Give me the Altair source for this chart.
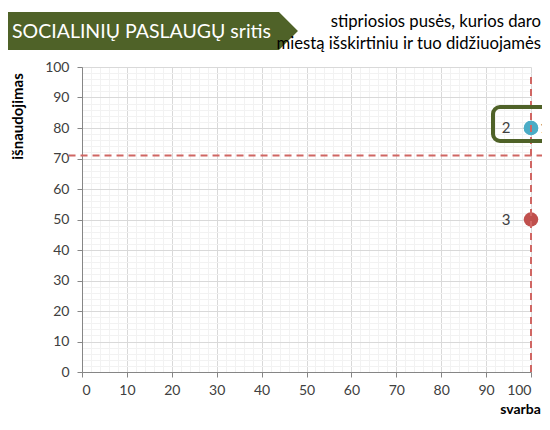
import altair as alt
import pandas as pd

# ---- data ----
ids = ["1", "2", "3"]
svarba = [100, 100, 100]
isnaudojimas = [80, 80, 50]
point_colors = ["#4BACC6", "#4BACC6", "#C0504D"]

avg_y = 71          # horizontal dashed reference line
avg_x = 100         # vertical dashed reference line
hline_x = [-3, 103]
vline_y = [0, 97.5]

tick_values = list(range(0, 101, 2))

banner_text = "SOCIALINIŲ PASLAUGŲ sritis"
subtitle_lines = ["stipriosios pusės, kurios daro", "miestą išskirtiniu ir tuo didžiuojamės"]
x_title = "svarba"
y_title = "išnaudojimas"

FONT = "Lato"
GREEN = "#4F6228"
DASH = "#D06663"

pts = pd.DataFrame({"id": ids, "svarba": svarba, "isn": isnaudojimas, "color": point_colors})

major_test = "datum.value % 10 === 0"
grid_color = {"condition": {"test": major_test, "value": "#D9D9D9"}, "value": "#F2F2F2"}
tick_color = {"condition": {"test": major_test, "value": "#868686"}, "value": "transparent"}
label_expr = "datum.value % 10 === 0 ? datum.label : ''"

xscale = alt.Scale(domain=[0, 100], nice=False, zero=False, padding=0)
yscale = alt.Scale(domain=[0, 100], nice=False, zero=False, padding=0)

x_axis = alt.Axis(values=tick_values, grid=True, gridColor=grid_color, tickColor=tick_color,
                  tickSize=5, domainColor="#868686", labelExpr=label_expr, labelOverlap=False,
                  labelFont=FONT, labelFontSize=14, labelColor="#404040", labelPadding=6,
                  title=x_title, titleFont=FONT, titleFontSize=14, titleFontWeight="bold",
                  titleColor="black", titleX=438, titleY=37, titleAlign="center",
                  titleBaseline="middle")
y_axis = alt.Axis(values=tick_values, grid=True, gridColor=grid_color, tickColor=tick_color,
                  tickSize=5, domainColor="#868686", labelExpr=label_expr, labelOverlap=False,
                  labelFont=FONT, labelFontSize=14, labelColor="#404040", labelPadding=8,
                  title=y_title, titleFont=FONT, titleFontSize=15, titleFontWeight="bold",
                  titleColor="black", titleX=-65, titleY=49, titleAngle=270,
                  titleAlign="center", titleBaseline="middle")


def X(field):
    return alt.X(field, scale=xscale, axis=x_axis)


def Y(field):
    return alt.Y(field, scale=yscale, axis=y_axis)


points = alt.Chart(pts).mark_circle(size=210, opacity=1).encode(
    x=X("svarba:Q"), y=Y("isn:Q"),
    color=alt.Color("color:N", scale=None),
)

lab_left = alt.Chart(pts[pts["id"] != "1"]).mark_text(
    align="center", baseline="middle", dx=-25, font=FONT, fontSize=15, color="#404040"
).encode(x=X("svarba:Q"), y=Y("isn:Q"), text="id:N")

lab_right = alt.Chart(pts[pts["id"] == "1"]).mark_text(
    align="left", baseline="middle", dx=9, font=FONT, fontSize=15, color="#404040"
).encode(x=X("svarba:Q"), y=Y("isn:Q"), text="id:N")

hdf = pd.DataFrame({"svarba": [hline_x[0]], "x2": [hline_x[1]], "isn": [avg_y]})
hline = alt.Chart(hdf).mark_rule(color=DASH, strokeWidth=2, strokeDash=[7, 5]).encode(
    x=X("svarba:Q"), x2="x2:Q", y=Y("isn:Q")
)
vdf = pd.DataFrame({"svarba": [avg_x], "isn": [vline_y[0]], "y2": [vline_y[1]]})
vline = alt.Chart(vdf).mark_rule(color=DASH, strokeWidth=2, strokeDash=[7, 5]).encode(
    x=X("svarba:Q"), y=Y("isn:Q"), y2="y2:Q"
)

# decorative highlight box around points 1-2
box = alt.Chart(pd.DataFrame({"k": [0]})).mark_rect(
    fill="transparent", stroke=GREEN, strokeWidth=4, cornerRadius=7
).encode(x=alt.value(411), x2=alt.value(490), y=alt.value(40), y2=alt.value(74))

# banner (arrow-shaped)
banner_shape = "M0,-1L14.26,-1L15.26,0L14.26,1L0,1Z"
banner = alt.Chart(pd.DataFrame({"k": [0]})).mark_point(
    shape=banner_shape, size=1444, filled=True, fill=GREEN, opacity=1, strokeWidth=0
).encode(x=alt.value(-74), y=alt.value(-36))

banner_lbl = alt.Chart(pd.DataFrame({"t": [banner_text]})).mark_text(
    align="left", baseline="middle", font=FONT, fontSize=19.5, color="white"
).encode(x=alt.value(-70), y=alt.value(-35), text="t:N")

sub1 = alt.Chart(pd.DataFrame({"t": [subtitle_lines[0]]})).mark_text(
    align="right", baseline="middle", font=FONT, fontSize=16.7, color="black"
).encode(x=alt.value(459), y=alt.value(-45), text="t:N")
sub2 = alt.Chart(pd.DataFrame({"t": [subtitle_lines[1]]})).mark_text(
    align="right", baseline="middle", font=FONT, fontSize=16.7, color="black"
).encode(x=alt.value(459), y=alt.value(-23), text="t:N")

chart = alt.layer(points, lab_left, lab_right, hline, vline, box, banner, banner_lbl, sub1, sub2).properties(
    width=449, height=305,
    autosize=alt.AutoSizeParams(type="none"),
    padding={"left": 74, "top": 59, "right": 11, "bottom": 45},
).configure_view(strokeWidth=0)

chart.save("out.html", embed_options={"renderer": "svg", "actions": False})
